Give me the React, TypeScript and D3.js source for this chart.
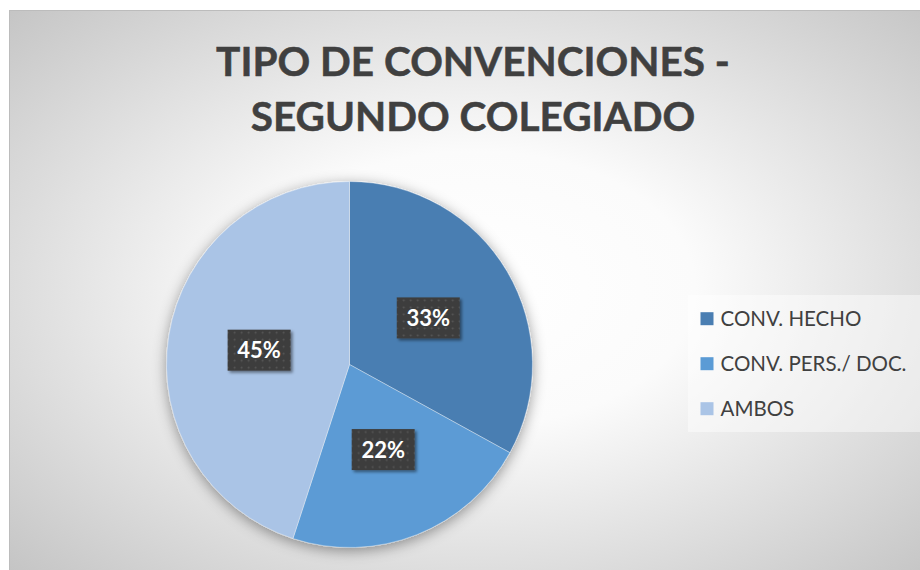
import React from "react";
import * as d3 from "d3";

const titleLines = ["TIPO DE CONVENCIONES -", "SEGUNDO COLEGIADO"];
const categories = ["CONV. HECHO", "CONV. PERS./ DOC.", "AMBOS"];
const values = [33, 22, 45];
const colors = ["#4a7eb2", "#5b9bd5", "#aac4e6"];

const W = 920;
const H = 570;
const FONT = 'Lato, "Open Sans", "DejaVu Sans", sans-serif';

export default function App() {
  const cx = 349.5;
  const cy = 364.5;
  const R = 183;
  const pie = d3.pie<number>().sort(null).value((d) => d)(values);
  const arc = d3.arc<d3.PieArcDatum<number>>().innerRadius(0).outerRadius(R);
  const total = d3.sum(values);
  const fmt = d3.format(".0%");

  const legendY = d3.scalePoint<string>().domain(categories).range([318.7, 408.7]);

  return (
    <svg
      width={W}
      height={H}
      style={{ position: "absolute", left: 0, top: 0, display: "block" }}
    >
      <defs>
        <radialGradient id="bg" cx="50%" cy="48%" r="72%">
          <stop offset="0" stopColor="#ffffff" />
          <stop offset="0.33" stopColor="#fbfbfb" />
          <stop offset="1" stopColor="#c2c2c2" />
        </radialGradient>
        <filter id="pieShadow" x="-20%" y="-20%" width="140%" height="140%">
          <feDropShadow dx="0" dy="3" stdDeviation="7" floodColor="#000" floodOpacity="0.4" />
        </filter>
        <filter id="boxShadow" x="-20%" y="-20%" width="150%" height="150%">
          <feDropShadow dx="2" dy="2" stdDeviation="1.6" floodColor="#000" floodOpacity="0.45" />
        </filter>
        <pattern id="dots" width="7" height="7" patternUnits="userSpaceOnUse">
          <rect width="7" height="7" fill="#3d3d3d" />
          <circle cx="3.5" cy="3.5" r="1" fill="#575757" />
        </pattern>
      </defs>
      <rect x={0} y={0} width={W} height={H} fill="#ffffff" />
      <rect x={9.5} y={10.5} width={W + 10} height={H + 10} fill="url(#bg)" stroke="#bcbcbc" strokeWidth={1} />

      {titleLines.map((t, i) => (
        <text
          key={t}
          x={473}
          y={76 + i * 55}
          textAnchor="middle"
          fontFamily={FONT}
          fontWeight="bold"
          fontSize={40.5}
          fill="#404040"
          stroke="#404040"
          strokeWidth={0.5}
        >
          {t}
        </text>
      ))}

      <g transform={`translate(${cx},${cy})`}>
        <g filter="url(#pieShadow)">
          {pie.map((p, i) => (
            <path key={i} d={arc(p) || ""} fill={colors[i]} stroke="rgba(255,255,255,0.45)" strokeWidth={0.8} />
          ))}
        </g>
        {pie.map((p, i) => {
          const [lx, ly] = arc.centroid(p);
          const bw = 63;
          const bh = 41;
          return (
            <g key={"l" + i} transform={`translate(${lx},${ly})`}>
              <rect x={-bw / 2} y={-bh / 2} width={bw} height={bh} fill="url(#dots)" filter="url(#boxShadow)" />
              <text
                x={0}
                y={8}
                textAnchor="middle"
                fontFamily={FONT}
                fontWeight="bold"
                fontSize={22}
                fill="#ffffff"
              >
                {fmt(p.value / total)}
              </text>
            </g>
          );
        })}
      </g>

      <rect x={688} y={295} width={232} height={137} fill="#ffffff" fillOpacity={0.45} />
      {categories.map((c, i) => {
        const y = legendY(c) as number;
        return (
          <g key={c}>
            <rect x={700.5} y={y - 6.5} width={13} height={13} fill={colors[i]} />
            <text x={720.5} y={y + 7.3} fontFamily={FONT} fontSize={20.5} fill="#404040">
              {c}
            </text>
          </g>
        );
      })}
    </svg>
  );
}
